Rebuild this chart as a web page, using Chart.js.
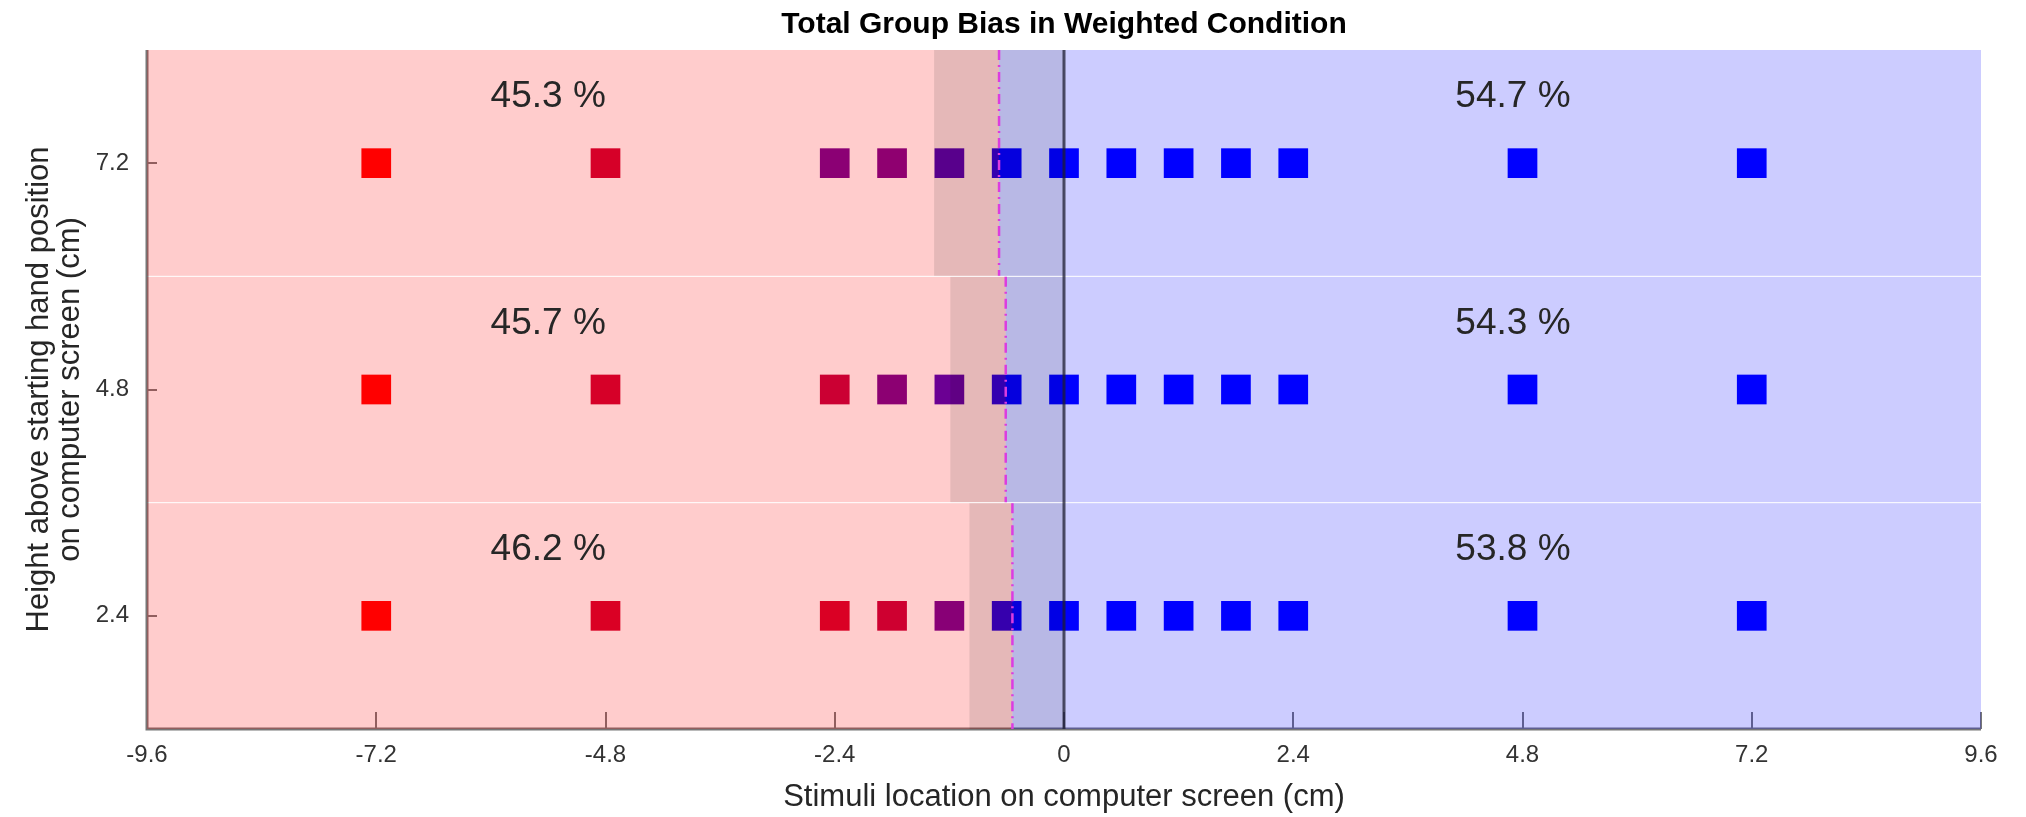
<!DOCTYPE html>
<html>
<head>
<meta charset="utf-8">
<title>Total Group Bias in Weighted Condition</title>
<script src="https://cdn.jsdelivr.net/npm/chart.js@4.4.1/dist/chart.umd.min.js"></script>
<style>
  html, body { margin: 0; padding: 0; background: #fff; }
  #grafica { display: block; }
</style>
</head>
<body>
<canvas id="grafica" width="2026" height="817"></canvas>
<script>
// Stimulus locations (cm) and hand heights (cm)
const stimuliX = [-7.2, -4.8, -2.4, -1.8, -1.2, -0.6, 0, 0.6, 1.2, 1.8, 2.4, 4.8, 7.2];
const heights = [2.4, 4.8, 7.2];
const rowEdges = [1.2, 3.6, 6.0, 8.4];

// Proportion of "right" responses at each stimulus (sets the red -> blue colour)
const propRight24 = [0, 0.18, 0.18, 0.24, 0.58, 0.95, 1, 1, 1, 1, 1, 1, 1];
const propRight48 = [0, 0.2, 0.25, 0.56, 0.72, 0.97, 1, 1, 1, 1, 1, 1, 1];
const propRight72 = [0, 0.2, 0.57, 0.55, 0.77, 0.97, 1, 1, 1, 1, 1, 1, 1];

// Bias point (dash-dot line) and left edge of the shaded band, per height
const biasPoint = [-0.54, -0.61, -0.68];
const bandLeft = [-0.99, -1.19, -1.36];

// Percent left / right per height
const pctLeft = [46.2, 45.7, 45.3];
const pctRight = [53.8, 54.3, 54.7];

const xTicks = [-9.6, -7.2, -4.8, -2.4, 0, 2.4, 4.8, 7.2, 9.6];
const yTicks = [2.4, 4.8, 7.2];

const FONT = '"Liberation Sans", Arial, Helvetica, sans-serif';
const propRight = [propRight24, propRight48, propRight72];

function colorFor(p) {
    return `rgb(${Math.round(255 * (1 - p))}, 0, ${Math.round(255 * p)})`;
}

const datasets = heights.map((h, i) => ({
    label: h + ' cm',
    data: stimuliX.map(v => ({ x: v, y: h })),
    pointStyle: 'rect',
    pointRadius: 21,
    pointHoverRadius: 21,
    pointBorderWidth: 0,
    pointBackgroundColor: propRight[i].map(colorFor),
    showLine: false
}));

// Axes, tick marks, coloured patches, bias lines and percentages
const biasLayers = {
    id: 'biasLayers',
    beforeDatasetsDraw(chart) {
        const { ctx, chartArea: a, scales: { x, y } } = chart;
        ctx.save();
        ctx.strokeStyle = '#767676';
        ctx.lineWidth = 3;
        ctx.beginPath();
        ctx.moveTo(a.left, a.top);
        ctx.lineTo(a.left, a.bottom);
        ctx.lineTo(a.right, a.bottom);
        ctx.stroke();
        ctx.lineWidth = 2;
        ctx.beginPath();
        xTicks.forEach(v => {
            const px = Math.round(x.getPixelForValue(v));
            ctx.moveTo(px, a.bottom);
            ctx.lineTo(px, a.bottom - 17);
        });
        yTicks.forEach(v => {
            const py = Math.round(y.getPixelForValue(v));
            ctx.moveTo(a.left, py);
            ctx.lineTo(a.left + 10, py);
        });
        ctx.stroke();
        ctx.restore();
    },
    afterDatasetsDraw(chart) {
        const { ctx, chartArea: a, scales: { x, y } } = chart;
        const x0 = x.getPixelForValue(0);
        ctx.save();
        heights.forEach((h, i) => {
            let top = y.getPixelForValue(rowEdges[i + 1]);
            let bot = y.getPixelForValue(rowEdges[i]);
            if (i < heights.length - 1) top += 0.5;
            if (i > 0) bot -= 0.5;
            const xb = x.getPixelForValue(biasPoint[i]);
            const xl = x.getPixelForValue(bandLeft[i]);

            ctx.fillStyle = 'rgba(255, 0, 0, 0.2)';
            ctx.fillRect(a.left, top, xb - a.left, bot - top);
            ctx.fillStyle = 'rgba(0, 0, 255, 0.2)';
            ctx.fillRect(xb, top, a.right - xb, bot - top);
            ctx.fillStyle = 'rgba(0, 0, 0, 0.1)';
            ctx.fillRect(xl, top, x0 - xl, bot - top);

            ctx.strokeStyle = '#dc3ce0';
            ctx.lineWidth = 2.5;
            ctx.setLineDash([10, 5, 2, 5]);
            ctx.beginPath();
            ctx.moveTo(xb, top);
            ctx.lineTo(xb, bot);
            ctx.stroke();
            ctx.setLineDash([]);

            const ty = y.getPixelForValue(h + 0.7);
            ctx.fillStyle = '#262626';
            ctx.font = '37px ' + FONT;
            ctx.textAlign = 'center';
            ctx.textBaseline = 'middle';
            ctx.fillText(pctLeft[i].toFixed(1) + ' %', x.getPixelForValue(-5.4), ty);
            ctx.fillText(pctRight[i].toFixed(1) + ' %', x.getPixelForValue(4.7), ty);
        });
        // zero line
        ctx.strokeStyle = 'rgba(30, 30, 50, 0.75)';
        ctx.lineWidth = 3;
        ctx.beginPath();
        ctx.moveTo(x0, a.top);
        ctx.lineTo(x0, a.bottom);
        ctx.stroke();
        ctx.restore();
    }
};

const ctx = document.getElementById('grafica').getContext('2d');
new Chart(ctx, {
    type: 'scatter',
    data: { datasets },
    plugins: [biasLayers],
    options: {
        responsive: false,
        animation: false,
        events: [],
        layout: { padding: { left: 0, right: 45, top: 0, bottom: 0 } },
        plugins: {
            legend: { display: false },
            tooltip: { enabled: false },
            title: {
                display: true,
                fullSize: false,
                text: 'Total Group Bias in Weighted Condition',
                color: '#000',
                font: { family: FONT, size: 30, weight: 'bold' },
                padding: { top: 7, bottom: 7 }
            }
        },
        scales: {
            x: {
                type: 'linear',
                min: -9.6,
                max: 9.6,
                afterBuildTicks: s => { s.ticks = xTicks.map(v => ({ value: v })); },
                afterFit: s => { s.height = 88; },
                grid: { display: false },
                border: { display: false },
                ticks: {
                    padding: 4,
                    color: '#333',
                    autoSkip: false,
                    maxRotation: 0,
                    font: { family: FONT, size: 24 },
                    callback: v => String(v)
                },
                title: {
                    display: true,
                    text: 'Stimuli location on computer screen (cm)',
                    color: '#262626',
                    font: { family: FONT, size: 31 },
                    padding: { top: 0, bottom: 1 }
                }
            },
            y: {
                type: 'linear',
                min: 1.2,
                max: 8.4,
                afterBuildTicks: s => { s.ticks = yTicks.map(v => ({ value: v })); },
                afterFit: s => { s.width = 147; },
                grid: { display: false },
                border: { display: false },
                ticks: {
                    padding: 10,
                    color: '#333',
                    autoSkip: false,
                    font: { family: FONT, size: 24 },
                    callback: v => String(v)
                },
                title: {
                    display: true,
                    text: ['Height above starting hand position', 'on computer screen (cm)'],
                    color: '#262626',
                    font: { family: FONT, size: 31, lineHeight: 1.0 },
                    padding: { top: 24, bottom: 0 }
                }
            }
        }
    }
});
</script>
</body>
</html>
